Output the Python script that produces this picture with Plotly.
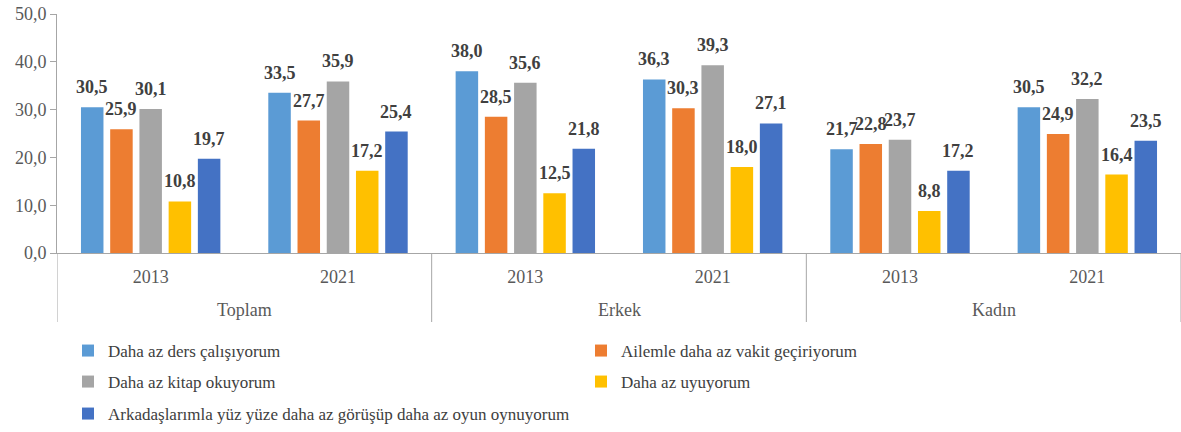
import plotly.graph_objects as go

groups = ["Toplam", "Erkek", "Kadın"]
years = ["2013", "2021", "2013", "2021", "2013", "2021"]

series_names = [
    "Daha az ders çalışıyorum",
    "Ailemle daha az vakit geçiriyorum",
    "Daha az kitap okuyorum",
    "Daha az uyuyorum",
    "Arkadaşlarımla yüz yüze daha az görüşüp daha az oyun oynuyorum",
]
ders = [30.5, 33.5, 38.0, 36.3, 21.7, 30.5]
aile = [25.9, 27.7, 28.5, 30.3, 22.8, 24.9]
kitap = [30.1, 35.9, 35.6, 39.3, 23.7, 32.2]
uyku = [10.8, 17.2, 12.5, 18.0, 8.8, 16.4]
arkadas = [19.7, 25.4, 21.8, 27.1, 17.2, 23.5]
values = [ders, aile, kitap, uyku, arkadas]
colors = ["#5B9BD5", "#ED7D31", "#A5A5A5", "#FFC000", "#4472C4"]
legend_ids = ["legend", "legend", "legend2", "legend2", "legend3"]

y_ticks = [0, 10, 20, 30, 40, 50]

FONT = "Liberation Serif"
W, H = 1181, 432
ML, MR, MT, MB = 57, 0, 14, 179
PLOT_H = H - MT - MB

BARGAP = 0.22
BARGROUPGAP = 0.23
n_series = len(values)
slot = (1 - BARGAP) / n_series

xpos = list(range(len(years)))

fig = go.Figure()
annotations = []
for j, (name, vals, col, lg) in enumerate(zip(series_names, values, colors, legend_ids)):
    fig.add_trace(go.Bar(
        x=xpos, y=vals, name=name, legend=lg,
        marker=dict(color=col, line=dict(width=0)),
        hoverinfo="skip",
    ))
    for i, v in enumerate(vals):
        annotations.append(dict(
            x=i - (1 - BARGAP) / 2 + slot * (j + 0.5), y=v, xref="x", yref="y",
            text=f"{v:.1f}".replace(".", ","), showarrow=False,
            yanchor="bottom", xanchor="center", yshift=8,
            font=dict(family=FONT, size=18, color="#404040", weight="bold"),
        ))

# outer category labels
for k, g in enumerate(groups):
    annotations.append(dict(
        x=2 * k + 0.5, y=0, xref="x", yref="paper", text=g, showarrow=False,
        yanchor="middle", xanchor="center", yshift=-57,
        font=dict(family=FONT, size=18, color="#595959"),
    ))

# dividers between outer categories
shapes = []
for k in range(len(groups) + 1):
    shapes.append(dict(
        type="line", xref="x", yref="paper",
        x0=2 * k - 0.5, x1=2 * k - 0.5, y0=0, y1=-69 / PLOT_H,
        line=dict(color="#A6A6A6", width=1),
    ))

legend_common = dict(
    orientation="h", xref="container", yref="container",
    xanchor="left", yanchor="top",
    entrywidth=468, entrywidthmode="pixels",
    font=dict(family=FONT, size=17, color="#404040"),
    itemwidth=30, tracegroupgap=0, bgcolor="rgba(0,0,0,0)",
)
LEG_X = 68 / W
fig.update_layout(
    width=W, height=H,
    margin=dict(l=ML, r=MR, t=MT, b=MB),
    paper_bgcolor="white", plot_bgcolor="white",
    barmode="group", bargap=BARGAP, bargroupgap=BARGROUPGAP,
    separators=",.",
    font=dict(family=FONT, size=18, color="#595959"),
    showlegend=True,
    legend=dict(legend_common, x=LEG_X, y=1 - 333 / H),
    legend2=dict(legend_common, x=LEG_X, y=1 - 364 / H),
    legend3=dict(legend_common, x=LEG_X, y=1 - 396 / H),
    annotations=annotations,
    shapes=shapes,
)
fig.update_yaxes(
    range=[0, 50], tickvals=y_ticks, tickformat=".1f", automargin=False,
    showgrid=False, showline=True, linecolor="#A6A6A6", linewidth=1,
    ticks="outside", ticklen=6, tickcolor="#A6A6A6",
    tickfont=dict(family=FONT, size=18, color="#595959"), zeroline=False,
)
fig.update_xaxes(
    range=[-0.5, len(years) - 0.5], tickvals=xpos, ticktext=years,
    automargin=False, showgrid=False, zeroline=False,
    showline=True, linecolor="#A6A6A6", linewidth=1,
    ticks="", ticklabelstandoff=7,
    tickfont=dict(family=FONT, size=18, color="#595959"),
)

fig.write_html(
    "out.html",
    config={"displayModeBar": False},
    post_script="document.body.style.margin='0';document.body.style.overflow='hidden';",
)
